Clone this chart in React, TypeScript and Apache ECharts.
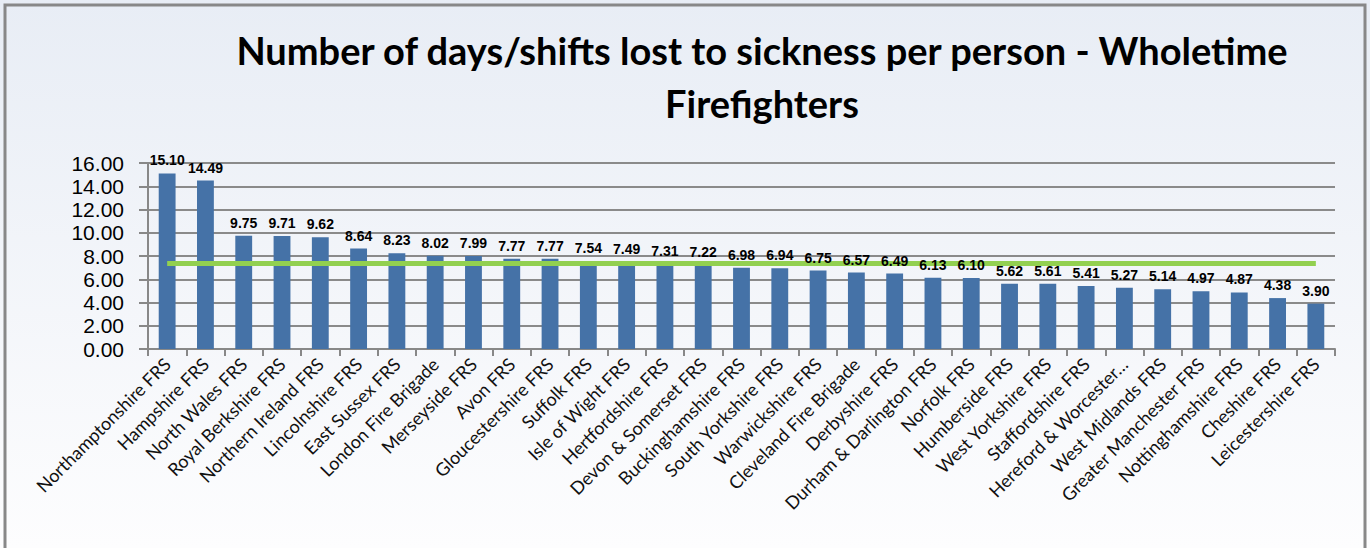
import React, { useEffect, useRef } from "react";
import * as echarts from "echarts";

const categories = [
  "Northamptonshire FRS", "Hampshire FRS", "North Wales FRS", "Royal Berkshire FRS",
  "Northern Ireland FRS", "Lincolnshire FRS", "East Sussex FRS", "London Fire Brigade",
  "Merseyside FRS", "Avon FRS", "Gloucestershire FRS", "Suffolk FRS", "Isle of Wight FRS",
  "Hertfordshire FRS", "Devon & Somerset FRS", "Buckinghamshire FRS", "South Yorkshire FRS",
  "Warwickshire FRS", "Cleveland Fire Brigade", "Derbyshire FRS", "Durham & Darlington FRS",
  "Norfolk FRS", "Humberside FRS", "West Yorkshire FRS", "Staffordshire FRS",
  "Hereford & Worcester…", "West Midlands FRS", "Greater Manchester FRS",
  "Nottinghamshire FRS", "Cheshire FRS", "Leicestershire FRS",
];

const daysLost = [
  15.10, 14.49, 9.75, 9.71, 9.62, 8.64, 8.23, 8.02, 7.99, 7.77, 7.77, 7.54, 7.49, 7.31,
  7.22, 6.98, 6.94, 6.75, 6.57, 6.49, 6.13, 6.10, 5.62, 5.61, 5.41, 5.27, 5.14, 4.97,
  4.87, 4.38, 3.90,
];

const averageValue = 7.35;
const yTicks = { min: 0, max: 16, interval: 2 };
const titleText = "Number of days/shifts lost to sickness per person - Wholetime\nFirefighters";

export default function App() {
  const ref = useRef<HTMLDivElement>(null);
  useEffect(() => {
    document.body.style.margin = "0";
    const chart = echarts.init(ref.current!, null, { renderer: "svg" });
    chart.setOption({
      animation: false,
      backgroundColor: new echarts.graphic.LinearGradient(0, 0, 0, 1, [
        { offset: 0, color: "#E8EDF5" },
        { offset: 1, color: "#FDFDFE" },
      ]),
      textStyle: { fontFamily: "Lato, 'Open Sans', sans-serif" },
      title: {
        text: titleText,
        left: 757,
        top: 18,
        textAlign: "center",
        textStyle: {
          fontFamily: "Lato, 'Open Sans', sans-serif",
          fontSize: 38,
          fontWeight: "bold",
          color: "#000",
          lineHeight: 53,
        },
      },
      graphic: [
        {
          type: "rect",
          shape: { x: 5, y: 5, width: 1360, height: 560 },
          style: { fill: "none", stroke: "#888", lineWidth: 3 },
          silent: true,
        },
      ],
      grid: { left: 148, right: 35, top: 163, bottom: 199, containLabel: false },
      xAxis: {
        type: "category",
        data: categories,
        axisLine: { lineStyle: { color: "#888", width: 2 } },
        axisTick: { show: true, length: 7, lineStyle: { color: "#888", width: 2 } },
        axisLabel: {
          rotate: 45,
          interval: 0,
          color: "#111",
          fontSize: 18,
          margin: 12,
          fontFamily: "Lato, 'Open Sans', sans-serif",
        },
      },
      yAxis: {
        type: "value",
        min: yTicks.min,
        max: yTicks.max,
        interval: yTicks.interval,
        axisLine: { show: true, lineStyle: { color: "#888", width: 2 } },
        axisTick: { show: true, length: 9, lineStyle: { color: "#888", width: 2 } },
        splitLine: { lineStyle: { color: "#8a8a8a", width: 2 } },
        axisLabel: {
          color: "#000",
          fontSize: 21,
          lineHeight: 21,
          margin: 24,
          formatter: (v: number) => v.toFixed(2),
          fontFamily: "'Liberation Sans Narrow', 'Liberation Sans', sans-serif",
        },
      },
      series: [
        {
          type: "bar",
          data: daysLost,
          barWidth: "44%",
          z: 2,
          itemStyle: { color: "#4572A7" },
          markLine: {
            silent: true,
            symbol: "none",
            label: { show: false },
            lineStyle: { color: "#92D050", width: 5, type: "solid" },
            data: [
              [
                { xAxis: 0, yAxis: averageValue },
                { xAxis: categories.length - 1, yAxis: averageValue },
              ],
            ],
          },
        },
        {
          type: "bar",
          data: daysLost,
          barWidth: "44%",
          barGap: "-100%",
          z: 5,
          silent: true,
          itemStyle: { color: "rgba(0,0,0,0)" },
          label: {
            show: true,
            position: "top",
            distance: 6,
            formatter: (p: any) => Number(p.value).toFixed(2),
            color: "#000",
            fontSize: 14,
            fontWeight: "bold",
            fontFamily: "'Liberation Sans Narrow', 'Liberation Sans', sans-serif",
          },
        },
      ],
    });
    return () => chart.dispose();
  }, []);
  return (
    <div
      ref={ref}
      style={{ position: "absolute", left: 0, top: 0, width: 1370, height: 548 }}
    />
  );
}
